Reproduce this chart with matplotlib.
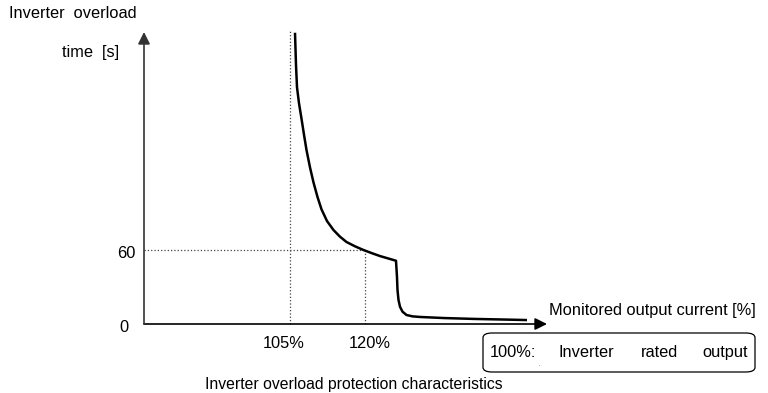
import matplotlib.pyplot as plt
from matplotlib.patches import FancyBboxPatch

plt.rcParams['font.family'] = ['Liberation Sans', 'DejaVu Sans']

# ============================== Data ============================== #
# output current [%] vs. overload time [s]
current_pct = [106.0, 106.2, 106.4, 106.8, 107.3, 107.8, 108.3, 109.0, 109.7,
               110.5, 111.3, 112.4, 113.7, 115.0, 116.3, 118.0, 119.7, 121.4,
               123.0, 124.6, 126.2, 126.4, 126.5, 126.7, 127.0, 127.5, 128.3,
               129.5, 131.0, 136.0, 142.0, 148.0, 152.4]
overload_s = [236.2, 210.0, 192.0, 179.0, 166.5, 153.5, 141.1, 127.0, 114.8,
              103.0, 93.0, 83.5, 76.2, 70.8, 66.5, 63.0, 60.0, 57.4,
              55.1, 53.2, 51.3, 38.0, 27.6, 19.5, 14.0, 10.0, 7.3,
              6.2, 5.7, 4.8, 4.1, 3.6, 3.2]

x_ticks = [105, 120]
x_tick_labels = ['105%', '120%']
y_tick_labels = ['0', '60']
marker_time = 60
note_words = ['100%:', 'Inverter', 'rated', 'output']

W, H = 768, 393
FS = 11.8


def px(x, y):
    return x / W, 1 - y / H


fig = plt.figure(figsize=(W / 100, H / 100), dpi=100)
fig.patch.set_facecolor('white')

# axes placed so that origin sits at pixel (144, 324)
x0, x1 = 75.8, 156.4
y0, y1 = 0, 236.8
ax = fig.add_axes([144 / W, (H - 324) / H, (547 - 144) / W, (324 - 32) / H])
ax.set_xlim(x0, x1)
ax.set_ylim(y0, y1)
ax.axis('off')

# axis arrows
ax.annotate('', xy=(x1, 0), xytext=(x0, 0), annotation_clip=False,
            arrowprops=dict(arrowstyle='-|>', color='black', lw=1.2,
                            mutation_scale=18, shrinkA=0, shrinkB=0))
ax.annotate('', xy=(x0, y1), xytext=(x0, 0), annotation_clip=False,
            arrowprops=dict(arrowstyle='-|>', color='#333333', lw=1.2,
                            mutation_scale=18, shrinkA=0, shrinkB=0))

# dotted guides
ax.plot([x_ticks[0], x_ticks[0]], [0, y1 + 0.5], ls=':', color='#444444',
        lw=0.9, clip_on=False)
ax.plot([x_ticks[1], x_ticks[1]], [0, marker_time], ls=':', color='#444444',
        lw=0.9)
ax.plot([x0, x_ticks[1]], [marker_time, marker_time], ls=':', color='#444444',
        lw=0.9)

# characteristic curve
ax.plot(current_pct, overload_s, color='black', lw=1.8,
        solid_joinstyle='round', solid_capstyle='butt', clip_on=False)

# tick labels
for (x, y), lab in zip([(284, 343), (370, 343)], x_tick_labels):
    fig.text(*px(x, y), lab, ha='center', va='center', fontsize=FS)
fig.text(*px(124, 328), y_tick_labels[0], ha='center', va='center', fontsize=FS)
fig.text(*px(126, 254), y_tick_labels[1], ha='center', va='center', fontsize=FS)

# titles
fig.text(*px(9, 13), 'Inverter  overload', ha='left', va='center', fontsize=FS)
fig.text(*px(62, 53), 'time  [s]', ha='left', va='center', fontsize=FS)
fig.text(*px(549, 311), 'Monitored output current [%]', ha='left',
         va='center', fontsize=FS)
fig.text(*px(354, 384), 'Inverter overload protection characteristics',
         ha='center', va='center', fontsize=11.3)

# rounded note box
box = FancyBboxPatch(px(483, 372), (755 - 483) / W, (372 - 333) / H,
                     boxstyle='round,pad=0,rounding_size=0.012',
                     transform=fig.transFigure, fc='white', ec='black', lw=0.9)
fig.add_artist(box)
for x, word in zip([490, 559, 641, 702], note_words):
    fig.text(*px(x, 357), word, ha='left', va='baseline', fontsize=FS)
fig.text(*px(539, 364), '.', ha='center', va='center', fontsize=4)

fig.savefig('out.png', dpi=100, facecolor='white')
